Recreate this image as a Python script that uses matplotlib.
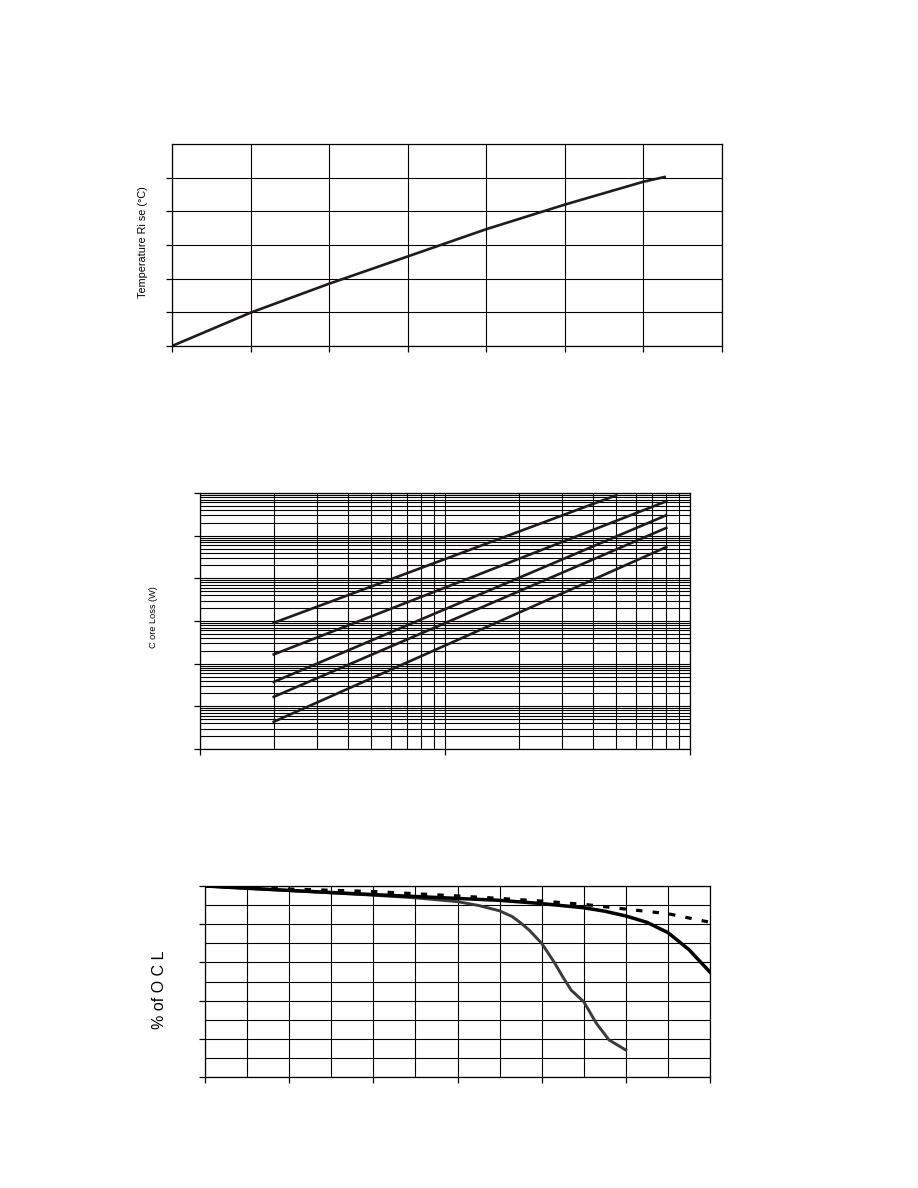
import numpy as np
import matplotlib
matplotlib.use("Agg")
import matplotlib.pyplot as plt
from matplotlib.ticker import MultipleLocator, LogLocator, NullFormatter

# --- chart 1 : temperature rise vs power dissipation
power_w = [0, 0.2, 0.4, 0.6, 0.8, 1.0, 1.2, 1.254]
temp_rise = [0, 9.9, 18.5, 26.6, 34.7, 42.0, 48.8, 50.2]

# --- chart 2 : core loss vs flux density (one line per frequency)
flux = [20, 800]
loss_curves = [
    ([20, 500], [0.906, 883]),
    (flux, [0.165, 638]),
    (flux, [0.0373, 301]),
    (flux, [0.0167, 152]),
    (flux, [0.00435, 54]),
]

# --- chart 3 : % of OCL vs DC bias
bias_a = [0, 1, 2, 3, 4, 5, 6, 7, 8, 9, 9.5, 10, 10.5, 11, 11.5, 12]
ocl_a = [100, 98.8, 97.7, 96.6, 95.5, 94.5, 93.5, 92.5, 90.8, 88.6, 86.8, 84.3, 81, 75.6, 66.7, 54.9]
bias_b = [0, 2, 4, 6, 7, 8, 9, 10, 11, 12]
ocl_b = [100, 98.4, 97.1, 94.8, 93.5, 92.1, 90.4, 87.9, 85.5, 81]
bias_c = [0, 2, 4, 5, 6, 6.5, 7, 7.3, 7.5, 7.7, 8, 8.3, 8.5, 8.7, 9, 9.3, 9.6, 10]
ocl_c = [100, 97.6, 95.2, 93.8, 91.8, 89.8, 87, 84, 80.7, 77, 70, 60, 52.5, 45.5, 39.4, 28.1, 19.4, 14.1]

W, H = 918, 1188
fig = plt.figure(figsize=(W / 100, H / 100), dpi=100)
plt.rcParams['font.family'] = ['Liberation Sans', 'DejaVu Sans']


def box(l, t, r, b):
    return [l / W, 1 - b / H, (r - l) / W, (b - t) / H]


def style(ax):
    for s in ax.spines.values():
        s.set_linewidth(0.9)
        s.set_color('black')
    ax.tick_params(which='major', direction='out', length=4, width=0.9,
                   labelbottom=False, labelleft=False)
    ax.tick_params(which='minor', length=0)
    ax.set_axisbelow(True)


# chart 1
ax1 = fig.add_axes(box(172, 144, 722, 346))
ax1.plot(power_w, temp_rise, color='#1f1b1c', lw=1.9)
ax1.set_xlim(0, 1.4)
ax1.set_ylim(0, 60)
ax1.set_xticks(np.arange(0, 1.41, 0.2))
ax1.set_yticks(np.arange(0, 51, 10))
ax1.grid(True, color='black', lw=0.8)
style(ax1)
fig.text(143 / W, 1 - 242 / H, 'Temperature Ri se (°C)', rotation=90,
         ha='center', va='center', fontsize=7.8)

# chart 2
ax2 = fig.add_axes(box(200, 493, 690, 749))
for xs, ys in loss_curves:
    ax2.plot(xs, ys, color='#1f1b1c', lw=1.9)
ax2.set_xscale('log')
ax2.set_yscale('log')
ax2.set_xlim(10, 1000)
ax2.set_ylim(1e-3, 1e3)
ax2.xaxis.set_major_locator(LogLocator(base=10, numticks=10))
ax2.yaxis.set_major_locator(LogLocator(base=10, numticks=10))
ax2.xaxis.set_minor_locator(LogLocator(base=10, subs=np.arange(2, 10), numticks=20))
ax2.yaxis.set_minor_locator(LogLocator(base=10, subs=np.arange(2, 10), numticks=20))
ax2.xaxis.set_minor_formatter(NullFormatter())
ax2.yaxis.set_minor_formatter(NullFormatter())
ax2.grid(True, which='both', color='black', lw=0.8)
style(ax2)
fig.text(153 / W, 1 - 617 / H, 'C ore Loss (W)', rotation=90,
         ha='center', va='center', fontsize=6.6)

# chart 3
ax3 = fig.add_axes(box(205, 886, 710, 1077))
ax3.plot(bias_a, ocl_a, color='black', lw=2.5, zorder=3)
ax3.plot(bias_b, ocl_b, color='black', lw=2.3, ls=(0, (2, 3.2)),
         dash_capstyle='butt', zorder=4)
ax3.plot(bias_c, ocl_c, color='#3a3a3a', lw=2.1, zorder=2)
ax3.set_xlim(0, 12)
ax3.set_ylim(0, 100)
ax3.set_xticks(np.arange(0, 13, 2))
ax3.set_yticks(np.arange(0, 101, 20))
ax3.xaxis.set_minor_locator(MultipleLocator(1))
ax3.yaxis.set_minor_locator(MultipleLocator(10))
ax3.grid(True, which='both', color='black', lw=0.8)
style(ax3)
fig.text(160 / W, 1 - 990 / H, '% of O C L', rotation=90,
         ha='center', va='center', fontsize=11.5)

fig.savefig('out.png', dpi=100)
